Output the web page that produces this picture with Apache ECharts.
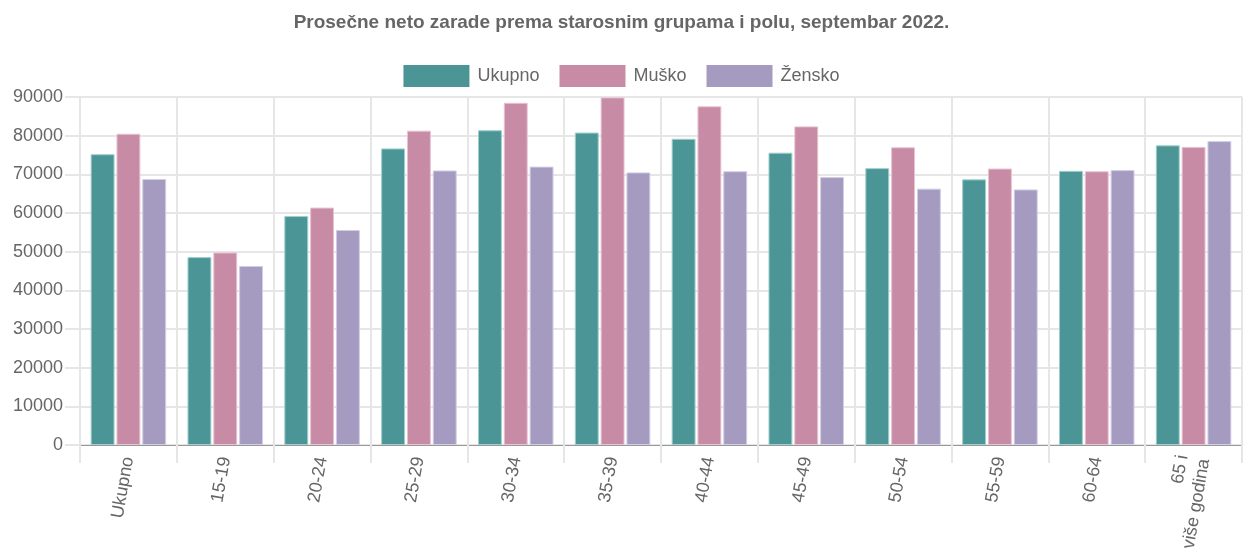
<!DOCTYPE html>
<html>
<head>
<meta charset="utf-8">
<script src="https://cdn.jsdelivr.net/npm/echarts@6/dist/echarts.min.js"></script>
<style>
  html, body { margin: 0; padding: 0; background: #fff; }
  #chart { width: 1243px; height: 559px; }
</style>
</head>
<body>
<div id="chart"></div>
<script>
var categories = ['Ukupno', '15-19', '20-24', '25-29', '30-34', '35-39', '40-44', '45-49', '50-54', '55-59', '60-64', '65 i\nviše godina']
var ukupno = [75200, 48600, 59200, 76700, 81400, 80800, 79200, 75600, 71600, 68700, 70900, 77500]
var musko = [80500, 49800, 61400, 81300, 88500, 89900, 87600, 82400, 77000, 71500, 70800, 77100]
var zensko = [68800, 46300, 55600, 71000, 72000, 70500, 70800, 69300, 66300, 66100, 71100, 78600]
var yTicks = [0, 10000, 20000, 30000, 40000, 50000, 60000, 70000, 80000, 90000]

var colors = ['#4b9596', '#c88ba5', '#a59bc0']
var borders = ['#9fd0cc', '#e8c3d2', '#d3cde6']

function barSeries(name, data, i) {
  return {
    name: name,
    type: 'bar',
    data: data,
    barGap: '8%',
    barCategoryGap: '22%',
    itemStyle: { color: colors[i], borderColor: borders[i], borderWidth: 1 }
  }
}

var myChart = echarts.init(document.getElementById('chart'))
myChart.setOption({
  animation: false,
  textStyle: { fontFamily: 'Liberation Sans, Arial, sans-serif' },
  title: {
    text: 'Prosečne neto zarade prema starosnim grupama i polu, septembar 2022.',
    left: 'center',
    top: 8,
    textStyle: { fontSize: 19, fontWeight: 'bold', color: '#666' }
  },
  legend: {
    top: 60,
    left: 'center',
    icon: 'rect',
    itemWidth: 66,
    itemHeight: 22,
    itemGap: 20,
    itemStyle: { borderWidth: 0 },
    textStyle: { fontSize: 18, color: '#666', padding: [0, 0, 0, 3] },
    data: ['Ukupno', 'Muško', 'Žensko']
  },
  grid: { left: 80, right: 1, top: 97, bottom: 114, containLabel: false },
  xAxis: {
    type: 'category',
    data: categories,
    axisLine: { lineStyle: { color: '#999', width: 1 } },
    axisTick: { show: true, length: 18, lineStyle: { color: '#e6e6e6', width: 2 } },
    splitLine: { show: true, lineStyle: { color: '#e6e6e6', width: 2 } },
    axisLabel: { rotate: 80, fontSize: 18, color: '#666', margin: 12, interval: 0, lineHeight: 22 }
  },
  yAxis: {
    type: 'value',
    min: yTicks[0],
    max: yTicks[yTicks.length - 1],
    interval: 10000,
    axisLine: { show: true, lineStyle: { color: '#e6e6e6', width: 2 } },
    axisTick: { show: true, length: 15, lineStyle: { color: '#e6e6e6', width: 2 } },
    splitLine: { lineStyle: { color: '#e6e6e6', width: 2 } },
    axisLabel: { fontSize: 18, color: '#666', margin: 17, formatter: function (v) { return String(v) } }
  },
  series: [
    barSeries('Ukupno', ukupno, 0),
    barSeries('Muško', musko, 1),
    barSeries('Žensko', zensko, 2)
  ]
})
window.addEventListener('resize', function () { myChart.resize() })
</script>
</body>
</html>
